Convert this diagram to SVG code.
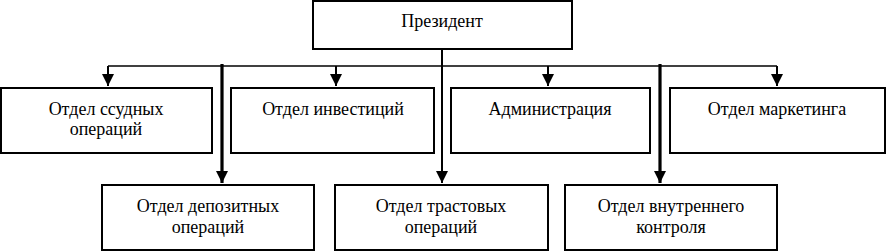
<svg xmlns="http://www.w3.org/2000/svg" width="887" height="252" viewBox="0 0 887 252">
<style>
.box{fill:#fff;stroke:#000;stroke-width:2}
.t{font-family:'Liberation Serif','Times New Roman',serif;font-size:18px;fill:#000;text-anchor:middle}
.thin{stroke:#000;stroke-width:1.5;fill:none}
.mid{stroke:#000;stroke-width:2;fill:none}
.thick{stroke:#000;stroke-width:3.2;fill:none}
</style>
<defs>
<marker id="ah" markerUnits="userSpaceOnUse" markerWidth="12" markerHeight="12" refX="12" refY="6" orient="auto" viewBox="0 0 12 12">
<path d="M0,0 L12,6 L0,12 z" fill="#000"/>
</marker>
</defs>
<g id="connectors">
<line class="thin" x1="108" y1="66" x2="777" y2="66"/>
<line class="mid" x1="108" y1="66" x2="108" y2="86" marker-end="url(#ah)"/>
<line class="mid" x1="336" y1="66" x2="336" y2="86" marker-end="url(#ah)"/>
<line class="mid" x1="548" y1="66" x2="548" y2="86" marker-end="url(#ah)"/>
<line class="mid" x1="777" y1="66" x2="777" y2="86" marker-end="url(#ah)"/>
<line class="mid" x1="442" y1="49" x2="442" y2="183" marker-end="url(#ah)"/>
<line class="thick" x1="222" y1="64" x2="222" y2="183" marker-end="url(#ah)"/>
<line class="thick" x1="660" y1="64" x2="660" y2="183" marker-end="url(#ah)"/>
</g>
<g id="president">
<rect class="box" x="313" y="1" width="259" height="48"/>
<text class="t" x="442" y="27">Президент</text>
</g>
<g id="loans">
<rect class="box" x="1" y="88" width="211" height="65"/>
<text class="t" x="106" y="115">Отдел ссудных</text>
<text class="t" x="106" y="135">операций</text>
</g>
<g id="invest">
<rect class="box" x="231" y="88" width="203" height="65"/>
<text class="t" x="333" y="115">Отдел инвестиций</text>
</g>
<g id="admin">
<rect class="box" x="451" y="88" width="199" height="65"/>
<text class="t" x="550" y="115">Администрация</text>
</g>
<g id="marketing">
<rect class="box" x="670" y="88" width="215" height="65"/>
<text class="t" x="777" y="115">Отдел маркетинга</text>
</g>
<g id="deposit">
<rect class="box" x="102" y="185" width="212" height="65"/>
<text class="t" x="208" y="212">Отдел депозитных</text>
<text class="t" x="208" y="233">операций</text>
</g>
<g id="trust">
<rect class="box" x="335" y="185" width="213" height="65"/>
<text class="t" x="441" y="212">Отдел трастовых</text>
<text class="t" x="441" y="233">операций</text>
</g>
<g id="control">
<rect class="box" x="565" y="185" width="212" height="65"/>
<text class="t" x="671" y="212">Отдел внутреннего</text>
<text class="t" x="671" y="233">контроля</text>
</g>
</svg>
